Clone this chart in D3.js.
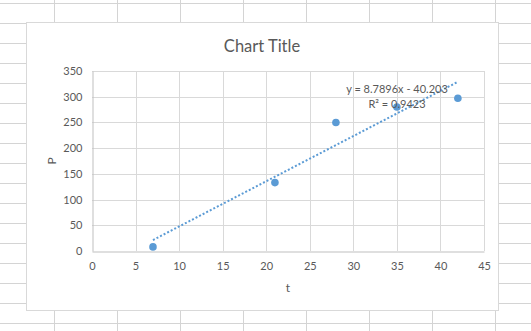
<!DOCTYPE html>
<html>
<head>
<meta charset="utf-8">
<title>Chart Title</title>
<script src="https://d3js.org/d3.v7.min.js"></script>
<style>
  body { margin: 0; background: #fff; }
  svg text { font-family: Lato, "Open Sans", sans-serif; fill: #595959; }
</style>
</head>
<body>
<div id="chart"></div>
<script>
// data
const tValues = [7, 21, 28, 35, 42];
const pValues = [8, 133, 250, 280, 297];
const xTicks = [0, 5, 10, 15, 20, 25, 30, 35, 40, 45];
const yTicks = [0, 50, 100, 150, 200, 250, 300, 350];

const width = 531, height = 331;
const svg = d3.select("#chart").append("svg")
  .attr("width", width).attr("height", height);

// spreadsheet cells behind the chart
const sheet = svg.append("g").attr("stroke", "#d4d4d4").attr("stroke-width", 1);
d3.range(54, width, 63).forEach(x => {
  sheet.append("line").attr("x1", x + 0.5).attr("x2", x + 0.5).attr("y1", 0).attr("y2", height);
});
d3.range(3, height, 20).forEach(y => {
  sheet.append("line").attr("x1", 0).attr("x2", width).attr("y1", y + 0.5).attr("y2", y + 0.5);
});

// chart area
svg.append("rect")
  .attr("x", 26.5).attr("y", 22.5).attr("width", 472).attr("height", 288)
  .attr("fill", "#fff").attr("stroke", "#d9d9d9");

const x = d3.scaleLinear().domain([0, 45]).range([92, 484]);
const y = d3.scaleLinear().domain([0, 350]).range([251, 71]);

// gridlines
svg.append("g").selectAll("line").data(xTicks.slice(1)).join("line")
  .attr("x1", d => Math.round(x(d)) + 0.5).attr("x2", d => Math.round(x(d)) + 0.5)
  .attr("y1", y(350)).attr("y2", y(0))
  .attr("stroke", "#d9d9d9");
svg.append("g").selectAll("line").data(yTicks.slice(1)).join("line")
  .attr("x1", x(0)).attr("x2", x(45))
  .attr("y1", d => Math.round(y(d)) + 0.5).attr("y2", d => Math.round(y(d)) + 0.5)
  .attr("stroke", "#d9d9d9");

// axes
const xAxis = svg.append("g").attr("transform", `translate(0,${y(0) + 0.5})`)
  .call(d3.axisBottom(x).tickValues(xTicks).tickSize(0).tickPadding(11));
const yAxis = svg.append("g").attr("transform", `translate(${x(0) + 0.5},0)`)
  .call(d3.axisLeft(y).tickValues(yTicks).tickSize(0).tickPadding(10));
[xAxis, yAxis].forEach(g => {
  g.select(".domain").attr("stroke", "#bfbfbf");
  g.selectAll("text").attr("font-size", 11).attr("fill", "#595959")
    .attr("font-family", "Lato, 'Open Sans', sans-serif");
});

// linear trendline (least squares)
const n = tValues.length;
const mx = d3.mean(tValues), my = d3.mean(pValues);
let sxy = 0, sxx = 0, syy = 0;
for (let i = 0; i < n; i++) {
  sxy += (tValues[i] - mx) * (pValues[i] - my);
  sxx += (tValues[i] - mx) ** 2;
  syy += (pValues[i] - my) ** 2;
}
const slope = sxy / sxx;
const intercept = my - slope * mx;
const r2 = (sxy * sxy) / (sxx * syy);
const tMin = d3.min(tValues), tMax = d3.max(tValues);

svg.append("line")
  .attr("x1", x(tMin)).attr("y1", y(slope * tMin + intercept))
  .attr("x2", x(tMax)).attr("y2", y(slope * tMax + intercept))
  .attr("stroke", "#5b9bd5").attr("stroke-width", 2)
  .attr("stroke-dasharray", "2,2");

// points
svg.append("g").selectAll("circle").data(tValues).join("circle")
  .attr("cx", d => x(d)).attr("cy", (d, i) => y(pValues[i]))
  .attr("r", 3.8).attr("fill", "#5b9bd5");

// trendline label
const sign = intercept < 0 ? " - " : " + ";
svg.append("text").attr("x", 397).attr("y", 93).attr("text-anchor", "middle")
  .attr("font-size", 11)
  .text(`y = ${slope.toFixed(4)}x${sign}${Math.abs(intercept).toFixed(3)}`);
svg.append("text").attr("x", 397).attr("y", 108).attr("text-anchor", "middle")
  .attr("font-size", 11)
  .text(`R² = ${r2.toFixed(4)}`);

// titles
svg.append("text").attr("x", 262).attr("y", 52).attr("text-anchor", "middle")
  .attr("font-size", 16.5).text("Chart Title");
svg.append("text").attr("x", 288).attr("y", 292).attr("text-anchor", "middle")
  .attr("font-size", 12).text("t");
svg.append("text").attr("transform", "translate(56,161) rotate(-90)")
  .attr("text-anchor", "middle").attr("font-size", 12).text("P");
</script>
</body>
</html>
